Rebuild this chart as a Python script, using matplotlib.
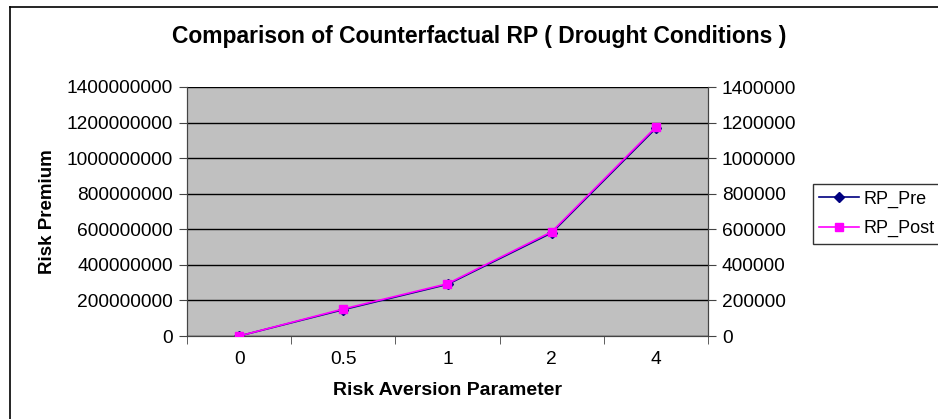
import matplotlib.pyplot as plt
import matplotlib.lines as mlines
from matplotlib.ticker import FixedLocator, NullFormatter

plt.rcParams['font.family'] = ['Liberation Sans', 'DejaVu Sans']

# data
categories = ["0", "0.5", "1", "2", "4"]
rp_pre = [0, 148e6, 290e6, 580e6, 1168e6]      # left axis
rp_post = [0, 152e3, 294e3, 586e3, 1175e3]     # right axis
left_ticks = [0, 200000000, 400000000, 600000000, 800000000,
              1000000000, 1200000000, 1400000000]
right_ticks = [0, 200000, 400000, 600000, 800000, 1000000, 1200000, 1400000]

fig = plt.figure(figsize=(9.38, 4.19), dpi=100)

# outer chart border (left and top edges visible)
fig.add_artist(mlines.Line2D([10 / 938, 10 / 938], [0, 1 - 7 / 419],
                             transform=fig.transFigure, color='black', lw=1.2))
fig.add_artist(mlines.Line2D([10 / 938, 1], [1 - 7 / 419, 1 - 7 / 419],
                             transform=fig.transFigure, color='black', lw=1.2))

ax = fig.add_axes([187 / 938, 1 - 336 / 419, (708 - 187) / 938, (336 - 87) / 419])
ax.set_facecolor('#c0c0c0')
x = list(range(len(categories)))

ax.plot(x, rp_pre, color='#000080', marker='D', markersize=5, lw=1.2,
        label='RP_Pre', zorder=3)
ax.set_xlim(-0.5, len(categories) - 0.5)
ax.set_ylim(0, 1400000000)
ax.set_yticks(left_ticks)
ax.set_yticklabels([str(t) for t in left_ticks])
ax.grid(axis='y', color='black', lw=1)
ax.set_axisbelow(True)

ax.set_xticks(x)
ax.set_xticklabels(categories)
ax.tick_params(axis='x', which='major', length=0, pad=11)
ax.xaxis.set_minor_locator(FixedLocator([i - 0.5 for i in range(len(categories) + 1)]))
ax.xaxis.set_minor_formatter(NullFormatter())
ax.tick_params(axis='x', which='minor', length=6, direction='out', color='#444444')
ax.tick_params(axis='y', length=6, direction='out', color='#444444', pad=4)
ax.tick_params(labelsize=13.8)

ax2 = ax.twinx()
ax2.plot(x, rp_post, color='#ff00ff', marker='s', markersize=6, lw=1.2,
         label='RP_Post', zorder=4)
ax2.set_ylim(0, 1400000)
ax2.set_yticks(right_ticks)
ax2.set_yticklabels([str(t) for t in right_ticks])
ax2.tick_params(axis='y', length=6, direction='out', color='#444444',
                labelsize=13.8, pad=4)

for a in (ax, ax2):
    for s in a.spines.values():
        s.set_color('#444444')
    a.spines['top'].set_visible(False)

ax.set_xlabel("Risk Aversion Parameter", fontsize=14, fontweight='bold', labelpad=10)
ax.set_ylabel("Risk Premium", fontsize=13.5, fontweight='bold', labelpad=8)
fig.text(479 / 938, 1 - 37 / 419, "Comparison of Counterfactual RP ( Drought Conditions )",
         ha='center', va='center', fontsize=16.5, fontweight='bold')

h1, l1 = ax.get_legend_handles_labels()
h2, l2 = ax2.get_legend_handles_labels()
fig.legend(h1 + h2, l1 + l2, loc='upper left', bbox_to_anchor=(813 / 938, 1 - 184 / 419),
           fontsize=13, frameon=True, fancybox=False, edgecolor='black',
           borderpad=0.35, handlelength=2.2, handletextpad=0.25,
           labelspacing=0.7, borderaxespad=0)

fig.savefig('out.png', dpi=100)
